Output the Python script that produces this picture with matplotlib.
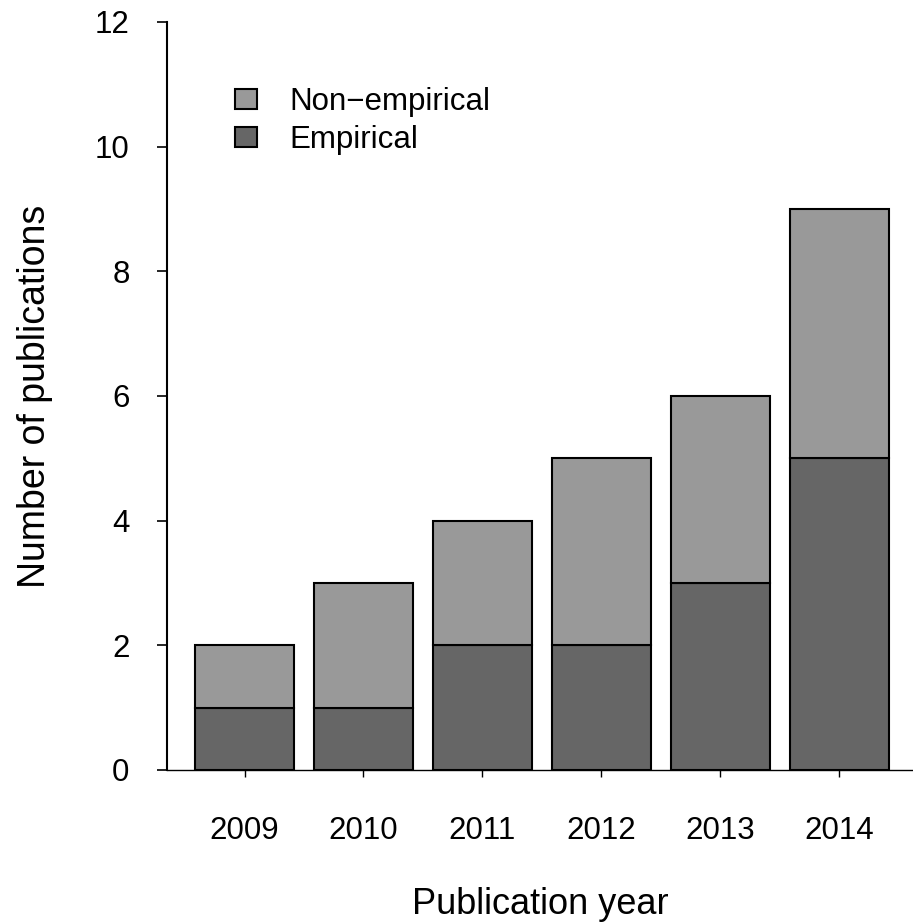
import matplotlib
matplotlib.use('Agg')
import matplotlib.pyplot as plt
import numpy as np

plt.rcParams['font.family'] = ['Liberation Sans', 'DejaVu Sans']

# 数据
years = ['2009', '2010', '2011', '2012', '2013', '2014']
empirical = [1, 1, 2, 2, 3, 5]
non_empirical = [1, 2, 2, 3, 3, 4]

fig = plt.figure(figsize=(9.13, 9.24), dpi=100)
ax = fig.add_axes([0.183, 0.1667, 0.817, 0.8096])

x = np.arange(len(years))
ax.bar(x, empirical, width=0.83, color='#666666', edgecolor='black',
       linewidth=1.5, label='Empirical')
ax.bar(x, non_empirical, width=0.83, bottom=empirical, color='#999999',
       edgecolor='black', linewidth=1.5, label='Non\u2212empirical')

ax.set_xlim(-0.651, 5.62)
ax.set_ylim(0, 12)
ax.set_yticks([0, 2, 4, 6, 8, 10, 12])
ax.set_xticks(x)
ax.set_xticklabels(years)

ax.spines['top'].set_visible(False)
ax.spines['right'].set_visible(False)
ax.spines['left'].set_linewidth(1.5)
ax.spines['bottom'].set_linewidth(1.0)

ax.tick_params(axis='y', direction='out', length=7, width=1.2, pad=20, labelsize=22.5)
ax.tick_params(axis='x', direction='out', length=5, width=1.0, pad=28, labelsize=22.5)

ax.set_xlabel('Publication year', fontsize=26, labelpad=30)
ax.set_ylabel('Number of publications', fontsize=27, labelpad=30)

# 图例顺序：Non-empirical 在上
handles, labels = ax.get_legend_handles_labels()
ax.legend(handles[::-1], labels[::-1], loc='upper left', bbox_to_anchor=(0.053, 0.95),
          frameon=False, fontsize=22.5, handlelength=0.7, handleheight=0.61,
          handletextpad=1.05, labelspacing=0.25)

plt.savefig('out.png', dpi=100)
plt.close()
